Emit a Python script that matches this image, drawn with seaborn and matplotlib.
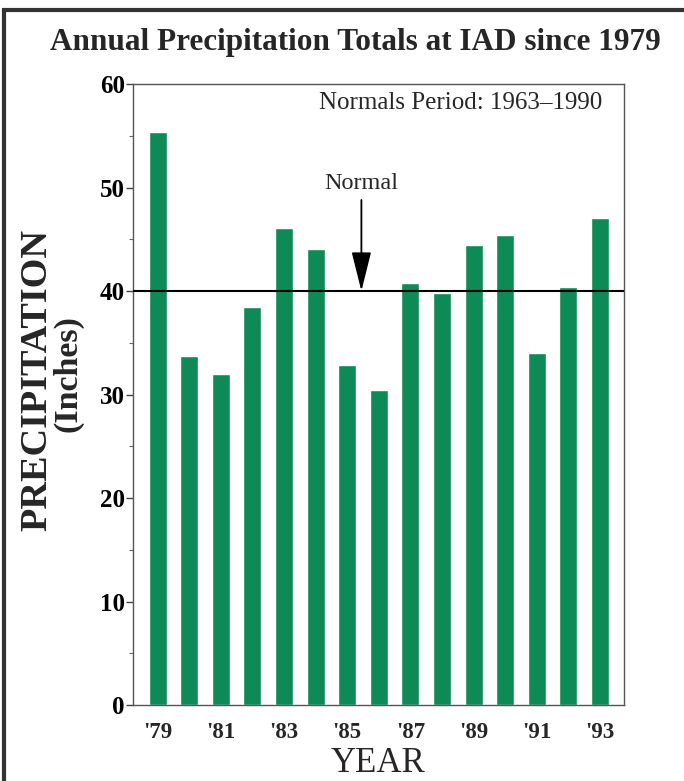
import matplotlib
matplotlib.use("Agg")
import matplotlib.pyplot as plt
from matplotlib.patches import Rectangle
from matplotlib.ticker import MultipleLocator
import seaborn as sns
import pandas as pd

years = ["'79", "'80", "'81", "'82", "'83", "'84", "'85", "'86",
         "'87", "'88", "'89", "'90", "'91", "'92", "'93"]
precip = [55.4, 33.7, 32.0, 38.5, 46.1, 44.1, 32.9, 30.4,
          40.8, 39.8, 44.4, 45.4, 34.0, 40.4, 47.1]
normal = 40.0
tick_labels = ["'79", "", "'81", "", "'83", "", "'85", "",
               "'87", "", "'89", "", "'91", "", "'93"]

df = pd.DataFrame({"year": years, "precip": precip})

sns.set_style("ticks")
plt.rcParams["font.family"] = ["Liberation Serif", "DejaVu Serif"]

fig = plt.figure(figsize=(6.84, 7.81), dpi=100)
ax = fig.add_axes([0.1944, 0.0973, 0.7178, 0.7951])

sns.barplot(
    data=df,
    x="year",
    y="precip",
    color="#0e8a57",
    saturation=1,
    width=0.57,
    ax=ax
)

ax.axhline(normal, color="black", lw=1.5, zorder=3)

ax.set_xlim(-0.78, 14.76)
ax.set_ylim(0, 60)
ax.yaxis.set_major_locator(MultipleLocator(10))
ax.yaxis.set_minor_locator(MultipleLocator(5))
ax.tick_params(axis="y", which="major", length=5, width=1, colors="#444",
               labelcolor="black", labelsize=18, pad=1)
ax.tick_params(axis="y", which="minor", length=3, width=0.8, colors="#666")
ax.tick_params(axis="x", length=0, labelsize=16.5, pad=12)
ax.set_xticks(range(len(years)))
ax.set_xticklabels(tick_labels)
for lab in ax.get_yticklabels() + ax.get_xticklabels():
    lab.set_fontweight("bold")

for side in ["left", "right", "top", "bottom"]:
    ax.spines[side].set_visible(True)
    ax.spines[side].set_color("#555")
    ax.spines[side].set_linewidth(1)

ax.set_xlabel("YEAR", fontsize=25, labelpad=3)
ax.set_ylabel("")

# two-line y label, second line a bit smaller
fig.text(0.0545, 0.5134, "PRECIPITATION", rotation=90, ha="center",
         va="center", fontsize=27.5, fontweight="bold")
fig.text(0.0987, 0.5211, "(Inches)", rotation=90, ha="center",
         va="center", fontsize=24.5, fontweight="bold")

ax.text(0.955, 0.969, "Normals Period: 1963\u20131990", transform=ax.transAxes,
        ha="right", va="center", fontsize=18)

ax.annotate(
    "Normal",
    xy=(6.45, normal),
    xytext=(6.45, 50.4),
    ha="center",
    va="center",
    fontsize=17.5,
    arrowprops=dict(arrowstyle="-|>,head_length=1.4,head_width=0.35",
                    color="black", lw=1.3, shrinkA=2, shrinkB=0)
)

fig.text(0.519, 0.946, "Annual Precipitation Totals at IAD since 1979",
         ha="center", va="center", fontsize=22.5, fontweight="bold")

fig.patches.append(Rectangle((4 / 684, -0.1), 2, 1.1 - 10 / 781,
                             transform=fig.transFigure, fill=False,
                             edgecolor="#333", lw=3))

fig.savefig("out.png", dpi=100)
plt.close(fig)
